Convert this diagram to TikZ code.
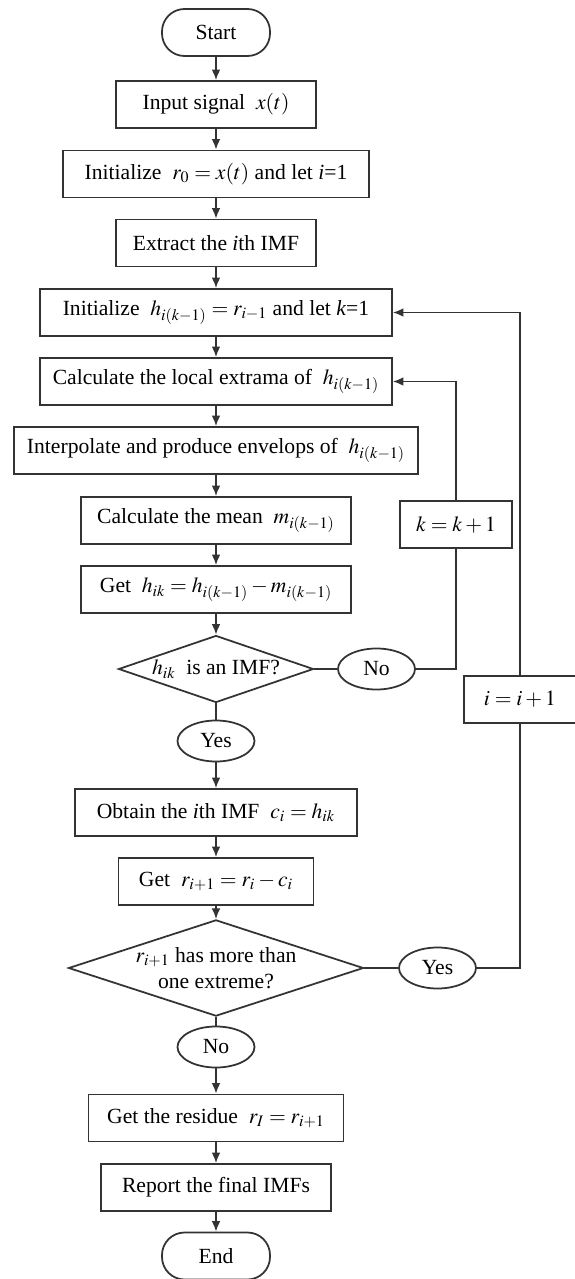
\documentclass[tikz,border=0pt]{standalone}
\usepackage{mathptmx}
\usepackage{fontspec}
\setmainfont{Liberation Serif}
\usepackage{tikz}
\usetikzlibrary{arrows.meta, shapes.geometric}

\begin{document}
\begin{tikzpicture}[line width=1pt, draw=black!80,
    every node/.style={font=\fontsize{12.3}{14.5}\selectfont, inner sep=0pt},
    proc/.style={rectangle, draw=black!80, fill=white, minimum height=0.94cm},
    term/.style={rectangle, draw=black!80, fill=white, rounded corners=0.45cm, minimum width=2.16cm, minimum height=0.94cm},
    decide/.style={diamond, draw=black!80, fill=white, aspect=2.9},
    answer/.style={ellipse, draw=black!80, fill=white, minimum width=1.54cm, minimum height=0.82cm},
    arr/.style={-{Latex[length=6pt, width=5pt]}}]
    \useasboundingbox (0, 0) rectangle (11.48, -25.58);

            \node[term] at (4.32, -0.65)   (start) {Start};
            \node[proc, minimum width=4.00cm] at (4.32, -2.09)   (input) {Input signal\enspace$x(t)$};
            \node[proc, minimum width=6.12cm] at (4.32, -3.48)   (initr) {Initialize\enspace$r_0 = x(t)$ and let \textit{i}=1};
            \node[proc, minimum width=4.00cm] at (4.32, -4.86)   (extract) {Extract the \textit{i}th IMF};
            \node[proc, minimum width=7.04cm] at (4.32, -6.25)   (inith) {Initialize\enspace$h_{i(k-1)} = r_{i-1}$ and let \textit{k}=1};
            \node[proc, minimum width=7.04cm] at (4.32, -7.63)   (extrema) {Calculate the local extrama of\enspace$h_{i(k-1)}$};
            \node[proc, minimum width=8.08cm] at (4.32, -9.01)   (interp) {Interpolate and produce envelops of\enspace$h_{i(k-1)}$};
            \node[proc, minimum width=5.40cm] at (4.32, -10.41)  (mean) {Calculate the mean\enspace$m_{i(k-1)}$};
            \node[proc, minimum width=5.40cm] at (4.32, -11.79)  (geth) {Get\enspace$h_{ik} = h_{i(k-1)} - m_{i(k-1)}$};
            \node[decide, minimum width=3.90cm, minimum height=1.34cm] at (4.32, -13.38)  (hdec) {$h_{ik}$\enspace is an IMF?};
            \node[answer] at (7.53, -13.38)  (hno) {No};
            \node[answer] at (4.32, -14.82)  (hyes) {Yes};
            \node[proc, minimum width=5.64cm] at (4.32, -16.25)  (obtain) {Obtain the \textit{i}th IMF\enspace$c_i = h_{ik}$};
            \node[proc, minimum width=3.90cm] at (4.32, -17.63)  (getr) {Get\enspace$r_{i+1} = r_i - c_i$};
            \node[decide, minimum width=5.90cm, minimum height=1.60cm, align=center] at (4.32, -19.36)  (rdec) {$r_{i+1}$ has more than\\one extreme?};
            \node[answer] at (8.75, -19.36)  (ryes) {Yes};
            \node[answer] at (4.32, -20.94)  (rno) {No};
            \node[proc, minimum width=5.10cm] at (4.32, -22.36)  (residue) {Get the residue\enspace$r_I = r_{i+1}$};
            \node[proc, minimum width=4.60cm] at (4.32, -23.75)  (report) {Report the final IMFs};
            \node[term] at (4.32, -25.12)  (end) {End};
            \node[proc, minimum width=2.24cm] at (9.12, -10.49)  (kinc) {$k = k + 1$};
            \node[proc, minimum width=2.24cm] at (10.40, -13.99) (iinc) {$i = i + 1$};

            \draw [arr] (start) -- (input);
            \draw [arr] (input) -- (initr);
            \draw [arr] (initr) -- (extract);
            \draw [arr] (extract) -- (inith);
            \draw [arr] (inith) -- (extrema);
            \draw [arr] (extrema) -- (interp);
            \draw [arr] (interp) -- (mean);
            \draw [arr] (mean) -- (geth);
            \draw [arr] (geth) -- (hdec);
            \draw (hdec) -- (hno);
            \draw (hdec) -- (hyes);
            \draw [arr] (hyes) -- (obtain);
            \draw [arr] (obtain) -- (getr);
            \draw [arr] (getr) -- (rdec);
            \draw (rdec) -- (ryes);
            \draw (rdec) -- (rno);
            \draw [arr] (rno) -- (residue);
            \draw [arr] (residue) -- (report);
            \draw [arr] (report) -- (end);
            \draw (hno.east) -| (kinc.south);
            \draw [arr] (kinc.north) |- (extrema.east);
            \draw (ryes.east) -| (iinc.south);
            \draw [arr] (iinc.north) |- (inith.east);
\end{tikzpicture}
\end{document}
